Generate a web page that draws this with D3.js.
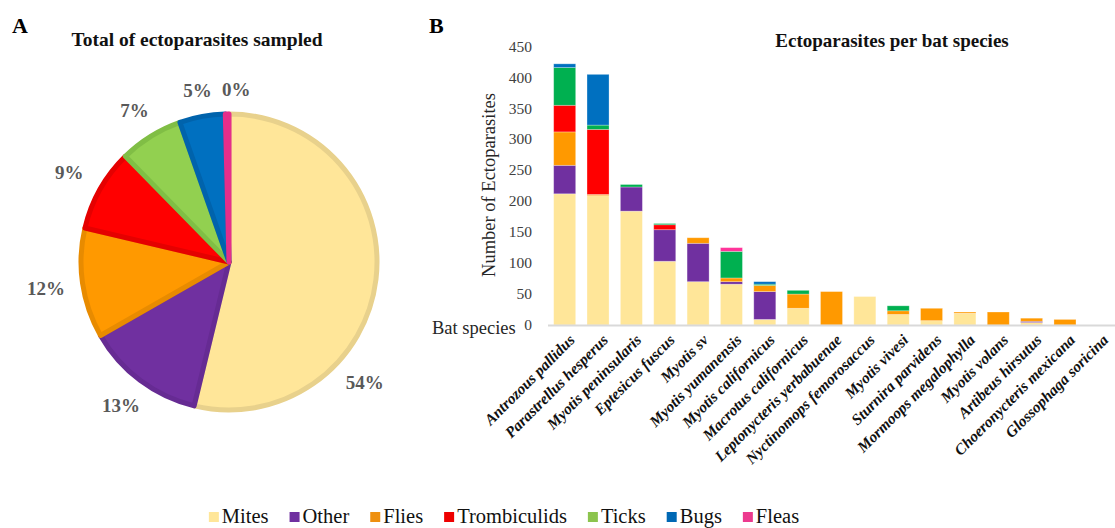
<!DOCTYPE html>
<html>
<head>
<meta charset="utf-8">
<script src="https://cdn.jsdelivr.net/npm/d3@7"></script>
<style>
  html, body { margin: 0; padding: 0; background: #fff; }
  svg { display: block; font-family: "Liberation Serif", "Times New Roman", serif; }
</style>
</head>
<body>
<svg id="fig" width="1115" height="528"></svg>
<script>
// ---- data ----
const seriesNames = ["Mites", "Other", "Flies", "Trombiculids", "Ticks", "Bugs", "Fleas"];

const species = [
  "Antrozous pallidus", "Parastrellus hesperus", "Myotis peninsularis", "Eptesicus fuscus",
  "Myotis sv", "Myotis yumanensis", "Myotis californicus", "Macrotus californicus",
  "Leptonycteris yerbabuenae", "Nyctinomops femorosaccus", "Myotis vivesi", "Sturnira parvidens",
  "Mormoops megalophylla", "Myotis volans", "Artibeus hirsutus", "Choeronycteris mexicana",
  "Glossophaga soricina"
];

const mites        = [212, 209, 184, 103, 70, 66,  9, 27,  0, 46, 17,  7, 19,  0, 4, 0, 0];
const other        = [ 46,   0,  39,  51, 62,  4, 45,  0,  0,  0,  0,  0,  0,  0, 2, 0, 0];
const flies        = [ 54,   2,   0,   0,  9,  6, 10, 23, 54,  0,  6, 20,  2, 21, 5, 9, 0];
const trombiculids = [ 43, 105,   0,   8,  0,  0,  0,  0,  0,  0,  0,  0,  0,  0, 0, 0, 0];
const ticks        = [ 61,   7,   4,   2,  0, 43,  2,  6,  0,  0,  8,  0,  0,  0, 0, 0, 0];
const bugs         = [  6,  82,   0,   0,  0,  0,  4,  0,  0,  0,  0,  0,  0,  0, 0, 0, 0];
const fleas        = [  0,   0,   0,   0,  0,  6,  0,  0,  0,  0,  0,  0,  0,  0, 0, 0, 0];

// share of all ectoparasites sampled, per group (percent)
const pieShares = [54, 13, 12, 9, 7, 5, 0.4];

const yTicks = [0, 50, 100, 150, 200, 250, 300, 350, 400, 450];

// ---- styles ----
const pieFill   = ["#FFE699", "#7030A0", "#FF9900", "#FF0000", "#92D050", "#0070C0", "#FF3399"];
const pieStroke = ["#E8D18C", "#662B93", "#E88B00", "#E50000", "#80BE45", "#0063AC", "#E52E8A"];
const barFill   = ["#FFE699", "#7030A0", "#FF9900", "#FF0000", "#00B050", "#0070C0", "#FF3399"];
const legendFill = ["#FFE699", "#7030A0", "#EE9010", "#EE0000", "#8CC44E", "#0068B4", "#EC3A8E"];
const serif = "'Liberation Serif', 'Times New Roman', serif";

const svg = d3.select("#fig");

// ================= Panel A: pie =================
svg.append("text").attr("x", 12).attr("y", 33)
  .attr("font-size", 22).attr("font-weight", "bold").attr("fill", "#000").text("A");

svg.append("text").attr("x", 197).attr("y", 46).attr("text-anchor", "middle")
  .attr("font-size", 19.5).attr("font-weight", "bold").attr("fill", "#111")
  .text("Total of ectoparasites sampled");

const pieCx = 229, pieCy = 262, pieR = 148;
const pie = d3.pie().sort(null).value(d => d);
const arcs = pie(pieShares);
const arc = d3.arc().innerRadius(0).outerRadius(pieR);
const pieTotal = d3.sum(pieShares);

const gPie = svg.append("g").attr("transform", `translate(${pieCx},${pieCy})`);
gPie.selectAll("path.slice").data(arcs).join("path")
  .attr("class", "slice")
  .attr("d", arc)
  .attr("fill", (d, i) => pieFill[i])
  .attr("stroke", (d, i) => pieStroke[i])
  .attr("stroke-width", 5)
  .attr("stroke-linejoin", "round");

// percentage labels outside the rim; the dominant slice's label sits further
// along its arc, and a label that would collide with the previous one slides on
const labelPos = a => {
  const r = 172 + 13 * Math.abs(Math.sin(a));
  return [r * Math.sin(a), -r * Math.cos(a)];
};
const placed = [];
arcs.forEach((d, i) => {
  const t = gPie.append("text")
    .attr("text-anchor", "middle")
    .attr("dy", "0.35em")
    .attr("font-family", serif)
    .attr("font-size", 19)
    .attr("font-weight", "bold")
    .attr("fill", "#595959")
    .text(Math.round(d.data / pieTotal * 100) + "%");
  const w = t.node().getComputedTextLength(), h = 16, gap = 10;
  let a = d.startAngle + (d.endAngle - d.startAngle) * (i === 0 ? 0.68 : 0.5);
  let [px, py] = labelPos(a);
  const prev = placed[placed.length - 1];
  let guard = 0;
  while (prev && guard++ < 200 &&
         Math.abs(px - prev.x) < (w + prev.w) / 2 + gap &&
         Math.abs(py - prev.y) < h + 2) {
    a += 0.005;
    [px, py] = labelPos(a);
  }
  t.attr("x", px).attr("y", py);
  placed.push({ x: px, y: py, w });
});

// ================= Panel B: stacked bars =================
svg.append("text").attr("x", 429).attr("y", 33)
  .attr("font-size", 22).attr("font-weight", "bold").attr("fill", "#000").text("B");

svg.append("text").attr("x", 892).attr("y", 47).attr("text-anchor", "middle")
  .attr("font-size", 19).attr("font-weight", "bold").attr("fill", "#111")
  .text("Ectoparasites per bat species");

const seriesValues = [mites, other, flies, trombiculids, ticks, bugs, fleas];
const rows = species.map((s, j) => {
  const o = { species: s };
  seriesNames.forEach((n, k) => { o[n] = seriesValues[k][j]; });
  return o;
});
const stacked = d3.stack().keys(seriesNames)(rows);

const x = d3.scaleBand().domain(species).range([548, 1115])
  .paddingInner(0.34).paddingOuter(0.17);
const y = d3.scaleLinear().domain([0, 450]).range([325, 46.5]);

const gBars = svg.append("g");
gBars.selectAll("g.series").data(stacked).join("g")
  .attr("class", "series")
  .attr("fill", (d, i) => barFill[i])
  .selectAll("rect").data(d => d.filter(p => p[1] - p[0] > 0)).join("rect")
  .attr("x", p => x(p.data.species))
  .attr("width", x.bandwidth())
  .attr("y", p => y(p[1]))
  .attr("height", p => y(p[0]) - y(p[1]))
  .attr("stroke", "#fff")
  .attr("stroke-opacity", 0.35)
  .attr("stroke-width", 0.8);

// category axis line
svg.append("line").attr("x1", 548).attr("x2", 1115)
  .attr("y1", y(0) + 0.5).attr("y2", y(0) + 0.5)
  .attr("stroke", "#D9D9D9").attr("stroke-width", 2);

// value axis (labels only)
const yAxis = d3.axisLeft(y).tickValues(yTicks).tickSize(0).tickPadding(0);
const gY = svg.append("g").attr("transform", "translate(532,0)").call(yAxis);
gY.attr("font-family", serif);
gY.select(".domain").remove();
gY.selectAll("text")
  .attr("font-family", serif)
  .attr("font-size", 15.5)
  .attr("fill", "#404040")
  .attr("dy", "0.3em");

svg.append("text")
  .attr("transform", "translate(495,185) rotate(-90)")
  .attr("text-anchor", "middle")
  .attr("font-family", serif)
  .attr("font-size", 18.5).attr("fill", "#262626")
  .text("Number of Ectoparasites");

svg.append("text").attr("x", 432).attr("y", 334)
  .attr("font-family", serif)
  .attr("font-size", 18.5).attr("fill", "#262626")
  .text("Bat species");

// species labels
const xAxis = d3.axisBottom(x).tickSize(0).tickPadding(0);
const gX = svg.append("g").attr("transform", `translate(0,${y(0)})`).call(xAxis);
gX.attr("font-family", serif);
gX.select(".domain").remove();
gX.selectAll("text")
  .attr("font-family", serif)
  .attr("font-size", 15.5)
  .attr("font-weight", "bold")
  .attr("font-style", "italic")
  .attr("fill", "#111")
  .attr("text-anchor", "end")
  .attr("y", 0).attr("dy", 0)
  .attr("transform", "translate(11,16) rotate(-45)");

// ================= Legend =================
const gLeg = svg.append("g");
let lx = 0;
seriesNames.forEach((n, i) => {
  const item = gLeg.append("g").attr("transform", `translate(${lx},0)`);
  item.append("rect").attr("x", 0).attr("y", 512).attr("width", 10).attr("height", 10)
    .attr("fill", legendFill[i]);
  const t = item.append("text").attr("x", 13).attr("y", 523)
    .attr("font-family", serif)
    .attr("font-size", 20.5).attr("fill", "#111").text(n);
  lx += 13 + t.node().getComputedTextLength() + 21;
});
const legW = lx - 21;
gLeg.attr("transform", `translate(${504 - legW / 2},0)`);
</script>
</body>
</html>
